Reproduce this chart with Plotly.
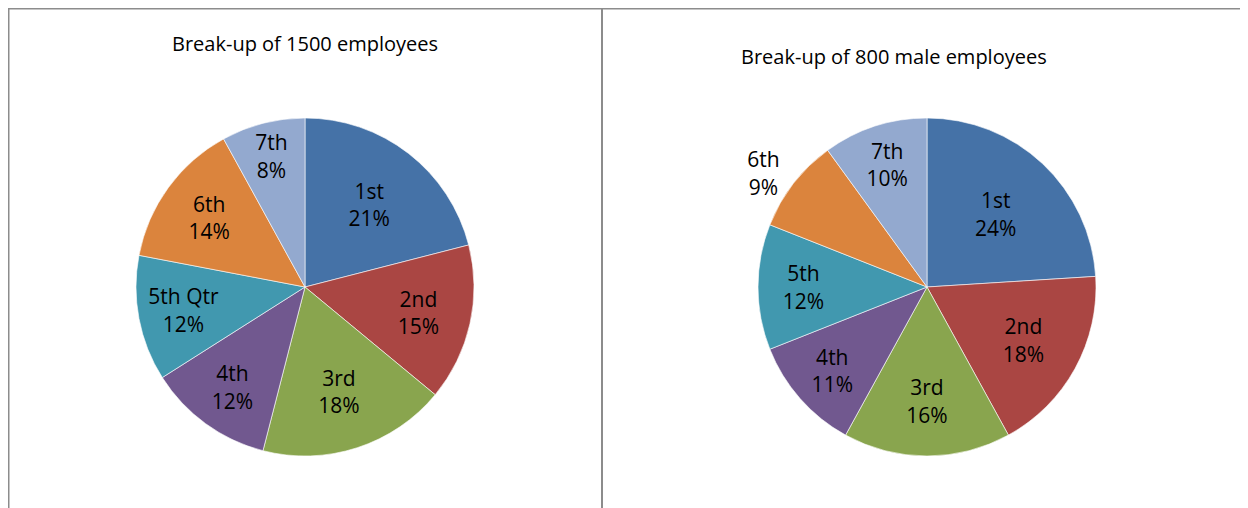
import plotly.graph_objects as go

labels_all = ["1st", "2nd", "3rd", "4th", "5th Qtr", "6th", "7th"]
labels_male = ["1st", "2nd", "3rd", "4th", "5th", "6th", "7th"]
employees_all = [315, 225, 270, 180, 180, 210, 120]
employees_male = [192, 144, 128, 88, 96, 72, 80]
colors = ["#4572A7", "#AA4643", "#89A54E", "#71588F", "#4198AF", "#DB843D", "#93A9CF"]
titles = ["Break-up of 1500 employees", "Break-up of 800 male employees"]

# page body has an 8px margin, so figure is 8px smaller and offset
W, H = 1240, 500
FONT = "Open Sans"

fig = go.Figure()

def px_dom(x0, x1, ytop, ybot):
    return dict(x=[x0 / W, x1 / W], y=[(H - ybot) / H, (H - ytop) / H])

fig.add_trace(go.Pie(
    labels=labels_all, values=employees_all, sort=False, direction="clockwise", rotation=0,
    marker=dict(colors=colors, line=dict(color="white", width=0.6)),
    textinfo="label+percent", textposition="inside", insidetextorientation="horizontal",
    textfont=dict(family=FONT, size=21, color="black"),
    domain=px_dom(128, 466, 110, 448), showlegend=False, hoverinfo="label+value+percent",
))

fig.add_trace(go.Pie(
    labels=labels_male, values=employees_male, sort=False, direction="clockwise", rotation=0,
    marker=dict(colors=colors, line=dict(color="white", width=0.6)),
    textinfo="label+percent",
    textposition=["inside", "inside", "inside", "inside", "inside", "outside", "inside"],
    insidetextorientation="horizontal",
    textfont=dict(family=FONT, size=21, color="black"),
    domain=px_dom(750, 1088, 110, 448), showlegend=False, hoverinfo="label+value+percent",
))

fig.add_annotation(text=titles[0], x=297 / W, y=(H - 36) / H, xref="paper", yref="paper",
                   showarrow=False, font=dict(family=FONT, size=20, color="black"),
                   xanchor="center", yanchor="middle")
fig.add_annotation(text=titles[1], x=886 / W, y=(H - 49) / H, xref="paper", yref="paper",
                   showarrow=False, font=dict(family=FONT, size=20, color="black"),
                   xanchor="center", yanchor="middle")

line = dict(color="#8c8c8c", width=2)
fig.add_shape(type="line", xref="paper", yref="paper", x0=0, x1=1, y0=(H - 0.5) / H, y1=(H - 0.5) / H, line=line)
fig.add_shape(type="line", xref="paper", yref="paper", x0=0.5 / W, x1=0.5 / W, y0=0, y1=1, line=line)
fig.add_shape(type="line", xref="paper", yref="paper", x0=594 / W, x1=594 / W, y0=0, y1=1, line=line)

fig.update_layout(width=W, height=H, margin=dict(l=0, r=0, t=0, b=0),
                  paper_bgcolor="white", plot_bgcolor="white",
                  font=dict(family=FONT))

fig.write_html("out.html")
